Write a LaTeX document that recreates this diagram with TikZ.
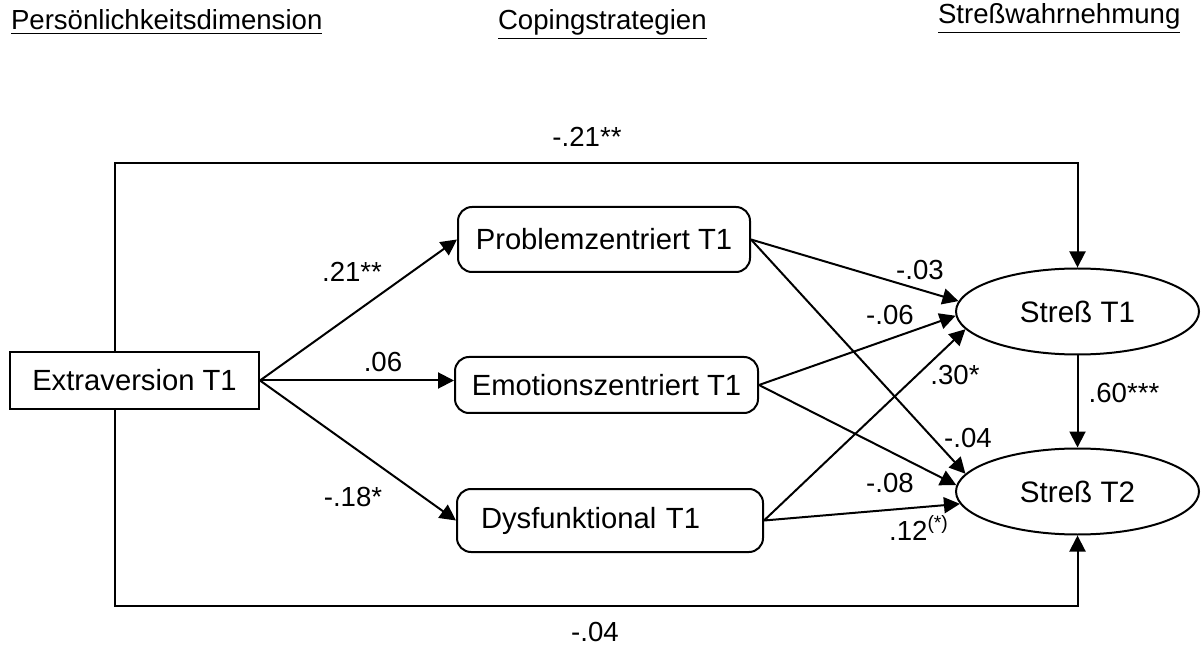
\documentclass[tikz,border=0pt]{standalone}
\usepackage{fontspec}
\setmainfont{Liberation Sans}
\usetikzlibrary{arrows.meta,shapes.geometric}

\begin{document}
\begin{tikzpicture}[x=0.5pt, y=-0.5pt, line width=1pt,
    font=\fontsize{13.8}{16}\selectfont,
    varbox/.style={draw, rectangle, minimum width=124.5pt, minimum height=28.5pt, inner sep=0pt,
        font=\fontsize{14.6}{17}\selectfont},
    copebox/.style={draw, rectangle, rounded corners=7pt, inner sep=0pt,
        font=\fontsize{14.6}{17}\selectfont},
    stressnode/.style={draw, ellipse, minimum width=121.5pt, minimum height=43pt, inner sep=0pt,
        font=\fontsize{14.8}{17}\selectfont},
    effect/.style={-{Triangle[length=8pt,width=8pt]}},
    coef/.style={inner sep=0pt},
    header/.style={anchor=base west, inner sep=0pt}]

    % --- Frame ---
    \useasboundingbox (0,0) rectangle (1204,646);

    % --- Column headers ---
    \node[header] (hpers) at (10,30) {\underline{Persönlichkeitsdimension}};
    \node[header] (hcope) at (497,30) {\underline{Copingstrategien}};
    \node[header] (hstress) at (937,24) {\underline{Streßwahrnehmung}};

    % --- Variables ---
    \node[varbox] (extra) at (134.5,380.5) {Extraversion T1};

    \node[copebox, minimum width=146pt, minimum height=32.5pt] (prob) at (604,239.5) {Problemzentriert T1};
    \node[copebox, minimum width=151.5pt, minimum height=28pt] (emo) at (606.5,385) {Emotionszentriert T1};
    \node[copebox, minimum width=153pt, minimum height=31.5pt,
          text width=129pt, align=left] (dys) at (610,520.5) {Dysfunktional T1};

    \node[stressnode] (st1) at (1077.5,311.5) {Streß T1};
    \node[stressnode] (st2) at (1077.5,491.5) {Streß T2};

    % --- Bars of the direct paths ---
    \coordinate (topbar) at (0,163);
    \coordinate (botbar) at (0,606);

    % --- Paths ---
    \draw[effect] (extra.east) -- (prob.west);
    \draw[effect] (extra.east) -- (extra.east -| emo.west);
    \draw[effect] (extra.east) -- (dys.west);

    \draw[effect] (prob.east) -- (st1.175);
    \draw[effect] (prob.east) -- (st2.171);
    \draw[effect] (emo.east) -- (st1.182);
    \draw[effect] (emo.east) -- (st2.177);
    \draw[effect] (dys.east) -- (st1.189);
    \draw[effect] (dys.east) -- (st2.186);

    \draw[effect] (st1.south) -- (st2.north);
    \draw[effect] ([xshift=-10pt]extra.north) |- (st1.north |- topbar) -- (st1.north);
    \draw[effect] ([xshift=-10pt]extra.south) |- (st2.south |- botbar) -- (st2.south);

    % --- Coefficients ---
    \node[coef] (ctop) at (587,137) {-.21**};
    \node[coef] (cbot) at (595,632) {-.04};
    \node[coef] (cprob) at (352,272) {.21**};
    \node[coef] (cemo) at (383,362) {.06};
    \node[coef] (cdys) at (353,497) {-.18*};
    \node[coef] (cprobone) at (920,270) {-.03};
    \node[coef] (cemoone) at (890,315) {-.06};
    \node[coef] (cdysone) at (955,375) {.30*};
    \node[coef] (cprobtwo) at (968,438) {-.04};
    \node[coef] (cemotwo) at (890,483) {-.08};
    \node[coef] (cdystwo) at (919,528) {.12\textsuperscript{(*)}};
    \node[coef] (cstab) at (1124,393) {.60***};

\end{tikzpicture}
\end{document}
